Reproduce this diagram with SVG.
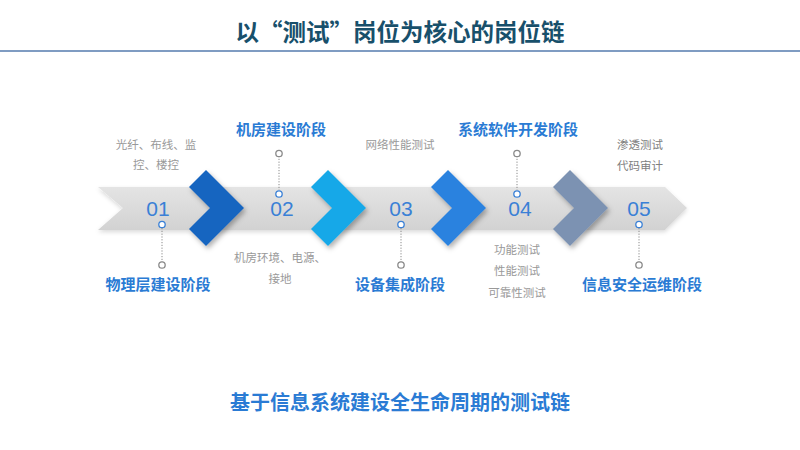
<svg xmlns="http://www.w3.org/2000/svg" width="800" height="450" viewBox="0 0 800 450">
<defs>
  <linearGradient id="band" x1="0" y1="0" x2="0" y2="1">
    <stop offset="0" stop-color="#e4e4e4"/>
    <stop offset="1" stop-color="#d2d2d2"/>
  </linearGradient>
  <filter id="sh" x="-30%" y="-30%" width="160%" height="160%">
    <feDropShadow dx="2" dy="3" stdDeviation="2.5" flood-color="#000" flood-opacity="0.3"/>
  </filter>
  <filter id="bsh" x="-5%" y="-30%" width="110%" height="160%">
    <feDropShadow dx="0" dy="2" stdDeviation="2" flood-color="#000" flood-opacity="0.15"/>
  </filter>
  <path id="chev" d="M-17,-21 L0,-38 L38,0 L0,38 L-17,21 L4,0 Z"/>
</defs>
<style>
  .title{font-family:"Noto Sans CJK SC","Liberation Sans",sans-serif;font-weight:bold;font-size:23.5px;fill:#18506b;text-anchor:middle}
  .sub{font-family:"Liberation Sans","Noto Sans CJK SC",sans-serif;font-weight:bold;font-size:20px;fill:#2a7bd4;text-anchor:middle}
  .stage{font-family:"Liberation Sans","Noto Sans CJK SC",sans-serif;font-weight:bold;font-size:15px;fill:#2a7bd4;text-anchor:middle}
  .note{font-family:"Liberation Sans","Noto Sans CJK SC",sans-serif;font-size:11.5px;fill:#999999;text-anchor:middle}
  .dk{fill:#808080}
  .num{font-family:"Liberation Sans","Noto Sans",sans-serif;font-size:21px;fill:#3a80d6;text-anchor:middle}
  .dot{stroke:#8a8a8a;stroke-width:1;stroke-dasharray:1.2,1.6;fill:none}
  .cg{fill:#fff;stroke:#8a8a8a;stroke-width:1.3}
  .cb{fill:#fff;stroke:#3a80d6;stroke-width:1.3}
</style>

<text class="title" x="400" y="41">以“测试”岗位为核心的岗位链</text>
<line x1="0" y1="51" x2="800" y2="51" stroke="#7f9cc2" stroke-width="2"/>

<g id="band-arrow">
  <path d="M98,187 L665,187 L687,208 L665,230 L98,230 L123,208 Z" fill="url(#band)" filter="url(#bsh)"/>
</g>

<g id="connectors">
  <line class="dot" x1="162" y1="228" x2="162" y2="262"/>
  <line class="dot" x1="279" y1="156" x2="279" y2="190"/>
  <line class="dot" x1="401" y1="228" x2="401" y2="262"/>
  <line class="dot" x1="517" y1="156" x2="517" y2="190"/>
  <line class="dot" x1="639" y1="228" x2="639" y2="262"/>
</g>

<g id="chevrons">
  <use href="#chev" x="206" y="208" fill="#1565c0" filter="url(#sh)"/>
  <use href="#chev" x="328" y="208" fill="#13a8e8" filter="url(#sh)"/>
  <use href="#chev" x="448" y="208" fill="#2a82df" filter="url(#sh)"/>
  <use href="#chev" x="570" y="208" fill="#7b92b2" filter="url(#sh)"/>
</g>

<g id="node-01">
  <text class="num" x="158" y="216">01</text>
  <circle class="cb" cx="162" cy="224.5" r="3.2"/>
  <circle class="cg" cx="162" cy="265" r="3.2"/>
  <text class="note" x="156" y="149">光纤、布线、监</text>
  <text class="note" x="156" y="169">控、楼控</text>
  <text class="stage" x="158" y="290">物理层建设阶段</text>
</g>

<g id="node-02">
  <text class="num" x="282" y="216">02</text>
  <circle class="cg" cx="279" cy="153.5" r="3.2"/>
  <circle class="cb" cx="279" cy="194" r="3.2"/>
  <text class="stage" x="281" y="135">机房建设阶段</text>
  <text class="note" x="280" y="262">机房环境、电源、</text>
  <text class="note" x="280" y="283">接地</text>
</g>

<g id="node-03">
  <text class="num" x="401" y="216">03</text>
  <circle class="cb" cx="401" cy="224.5" r="3.2"/>
  <circle class="cg" cx="401" cy="265" r="3.2"/>
  <text class="note" x="400" y="149">网络性能测试</text>
  <text class="stage" x="400" y="290">设备集成阶段</text>
</g>

<g id="node-04">
  <text class="num" x="520" y="216">04</text>
  <circle class="cg" cx="517" cy="153.5" r="3.2"/>
  <circle class="cb" cx="517" cy="194" r="3.2"/>
  <text class="stage" x="518" y="135">系统软件开发阶段</text>
  <text class="note" x="517" y="254">功能测试</text>
  <text class="note" x="517" y="275">性能测试</text>
  <text class="note" x="517" y="297">可靠性测试</text>
</g>

<g id="node-05">
  <text class="num" x="639" y="216">05</text>
  <circle class="cb" cx="639" cy="224.5" r="3.2"/>
  <circle class="cg" cx="639" cy="265" r="3.2"/>
  <text class="note dk" x="640" y="149">渗透测试</text>
  <text class="note dk" x="640" y="170">代码审计</text>
  <text class="stage" x="642" y="290">信息安全运维阶段</text>
</g>

<text class="sub" x="400" y="410">基于信息系统建设全生命周期的测试链</text>
</svg>
